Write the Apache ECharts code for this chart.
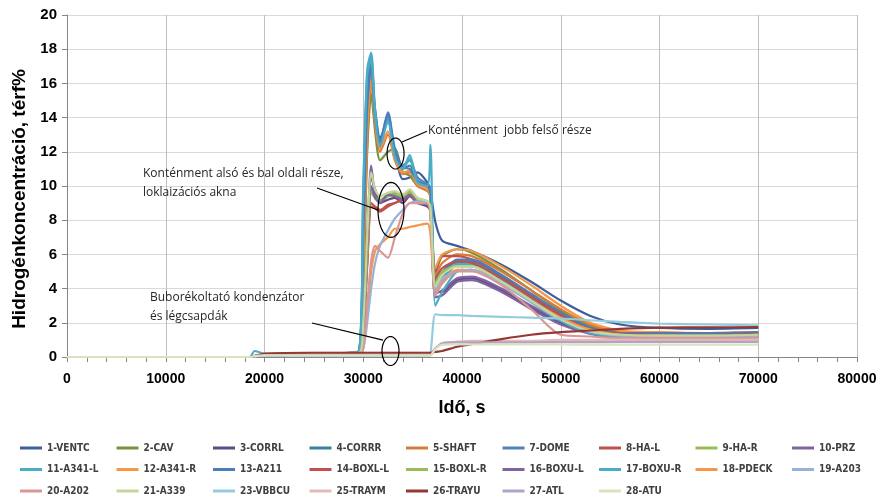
<!DOCTYPE html>
<html>
<head>
<meta charset="utf-8">
<script src="https://cdn.jsdelivr.net/npm/echarts@6/dist/echarts.min.js"></script>
<style>
  html, body { margin: 0; padding: 0; background: #ffffff; }
  #chart { width: 881px; height: 501px; }
</style>
</head>
<body>
<div id="chart"></div>
<script>
// time points (s) shared by every series
var times = [0, 18500, 19000, 20000, 25000, 29500, 30000, 30400, 30800, 31200, 31700, 32500, 33200, 34000, 34700,
             35500, 36500, 36800, 37300, 38000, 39500, 41000, 44000, 47000, 50000, 53000, 56000, 60000, 65000, 70000];

var seriesNames = ['1-VENTC', '2-CAV', '3-CORRL', '4-CORRR', '5-SHAFT', '7-DOME', '8-HA-L', '9-HA-R', '10-PRZ',
                   '11-A341-L', '12-A341-R', '13-A211', '14-BOXL-L', '15-BOXL-R', '16-BOXU-L', '17-BOXU-R', '18-PDECK', '19-A203',
                   '20-A202', '21-A339', '23-VBBCU', '25-TRAYM', '26-TRAYU', '27-ATL', '28-ATU'];

var seriesColors = ['#3d5e9c', '#77933c', '#5f4b7d', '#31859c', '#d97a3c', '#4f81bd', '#c0504d', '#9bbb59', '#8064a2',
                    '#4bacc6', '#f79646', '#4a7ebb', '#c0504d', '#9bbb59', '#8064a2', '#4bacc6', '#f79646', '#95b3d7',
                    '#d99694', '#c3d69b', '#93cddd', '#e6b9b8', '#953735', '#b3a2c7', '#d7e4bd'];

// hydrogen concentration, vol%
var v1  = [0, 0, 0.05, 0.15, 0.2, 0.3, 6, 13, 16.3, 14.5, 12.8, 13.8, 12.0, 10.4, 10.5, 10.8, 10.2, 9.7, 7.9, 6.8, 6.5, 6.2, 5.4, 4.4, 3.3, 2.4, 1.9, 1.7, 1.65, 1.7];
var v2  = [0, 0, 0.05, 0.15, 0.2, 0.3, 4, 12, 15.4, 13.2, 11.5, 12.0, 12.2, 10.8, 10.6, 10.0, 9.8, 9.3, 4.9, 5.9, 6.3, 6.1, 5.1, 3.9, 2.7, 1.8, 1.4, 1.25, 1.25, 1.3];
var v3  = [0, 0, 0.05, 0.1, 0.15, 0.2, 1.5, 6, 10.5, 9.8, 9.0, 9.2, 9.3, 9.0, 9.4, 9.0, 8.8, 8.5, 3.8, 3.8, 4.5, 4.6, 3.9, 2.9, 2.0, 1.4, 1.2, 1.2, 1.2, 1.25];
var v4  = [0, 0, 0.05, 0.15, 0.2, 0.3, 8, 15, 17.2, 14, 12.5, 14.1, 11.8, 11, 11.2, 10.3, 10, 9.8, 4.5, 4.8, 5.6, 5.6, 4.7, 3.6, 2.5, 1.7, 1.35, 1.3, 1.3, 1.35];
var v5  = [0, 0, 0.05, 0.15, 0.2, 0.3, 5, 12.5, 16.2, 13.6, 12.0, 13.0, 11.5, 10.7, 10.8, 10.0, 9.7, 9.4, 4.8, 5.5, 6.0, 5.9, 5.0, 3.9, 2.8, 1.9, 1.5, 1.4, 1.35, 1.4];
var v7  = [0, 0, 0.05, 0.15, 0.2, 0.3, 9, 16, 17.6, 14.2, 12.6, 14.3, 12.2, 11.2, 11.5, 10.5, 10.1, 9.9, 4.3, 4.6, 5.5, 5.5, 4.6, 3.5, 2.4, 1.6, 1.3, 1.35, 1.35, 1.4];
var v8  = [0, 0, 0.05, 0.1, 0.15, 0.2, 1.5, 5.5, 9.0, 8.8, 8.6, 8.9, 9.0, 9.3, 9.5, 9.2, 9.0, 8.7, 5.0, 5.9, 5.9, 5.7, 4.8, 3.6, 2.5, 1.7, 1.4, 1.35, 1.35, 1.4];
var v9  = [0, 0, 0.05, 0.1, 0.15, 0.2, 1.6, 6, 9.8, 9.4, 9.2, 9.5, 9.6, 9.5, 9.7, 9.3, 9.1, 8.8, 4.2, 4.9, 5.4, 5.4, 4.5, 3.4, 2.3, 1.5, 1.3, 1.25, 1.25, 1.3];
var v10 = [0, 0, 0.05, 0.1, 0.15, 0.2, 2, 7, 11.2, 9.5, 9.1, 9.4, 9.5, 9.2, 9.6, 9.1, 9.0, 8.6, 3.5, 3.6, 4.4, 4.5, 3.8, 2.8, 1.9, 1.35, 1.15, 1.15, 1.15, 1.2];
var v11 = [0, 0, 0.05, 0.15, 0.2, 0.3, 10, 16.8, 17.8, 14.4, 12.4, 14.0, 11.8, 11.0, 11.8, 10.2, 9.8, 9.7, 4.0, 4.4, 5.4, 5.4, 4.5, 3.4, 2.3, 1.5, 1.25, 1.3, 1.3, 1.35];
var v12 = [0, 0, 0.05, 0.15, 0.2, 0.3, 6, 13.5, 16.6, 13.8, 12.2, 13.2, 11.6, 10.8, 10.9, 10.1, 9.8, 9.5, 5.2, 6.0, 6.3, 6.2, 5.3, 4.2, 3.0, 2.0, 1.55, 1.45, 1.4, 1.45];
var v13 = [0, 0, 0.05, 0.15, 0.2, 0.3, 7, 14.5, 17.0, 14.0, 12.6, 14.2, 12.0, 11.1, 11.0, 10.3, 10.0, 9.6, 4.6, 5.0, 5.7, 5.7, 4.8, 3.7, 2.6, 1.7, 1.4, 1.4, 1.4, 1.45];
var v14 = [0, 0, 0.05, 0.1, 0.15, 0.2, 1.4, 5.3, 8.8, 8.7, 8.5, 8.8, 9.0, 9.2, 9.4, 9.1, 8.9, 8.6, 4.6, 5.2, 5.6, 5.5, 4.6, 3.5, 2.4, 1.6, 1.35, 1.3, 1.3, 1.35];
var v15 = [0, 0, 0.05, 0.1, 0.15, 0.2, 1.5, 5.8, 9.6, 9.3, 9.1, 9.4, 9.5, 9.4, 9.6, 9.2, 9.0, 8.7, 4.3, 5.0, 5.3, 5.3, 4.4, 3.3, 2.2, 1.5, 1.3, 1.25, 1.25, 1.3];
var v16 = [0, 0, 0.05, 0.1, 0.15, 0.2, 1.8, 6.5, 10.0, 9.3, 9.0, 9.5, 9.4, 9.2, 9.5, 9.0, 8.9, 8.6, 3.7, 3.9, 4.6, 4.7, 4.0, 3.0, 2.1, 1.4, 1.2, 1.2, 1.2, 1.2];
var v17 = [0, 0, 0.35, 0.2, 0.2, 0.3, 9.5, 16.5, 17.4, 14.2, 12.3, 13.8, 11.7, 11.0, 11.6, 10.2, 10.0, 12.4, 3.0, 3.8, 5.0, 5.1, 4.3, 3.2, 2.1, 1.4, 1.2, 1.25, 1.25, 1.3];
var v18 = [0, 0, 0.05, 0.1, 0.15, 0.2, 0.5, 2.5, 5.0, 6.2, 6.6, 7.0, 7.5, 7.5, 7.6, 7.7, 7.8, 7.2, 3.8, 4.5, 5.1, 5.1, 4.4, 3.3, 2.3, 1.6, 1.3, 1.25, 1.2, 1.2];
var v19 = [0, 0, 0.05, 0.1, 0.15, 0.2, 0.5, 2, 4, 5.5, 6.5, 7.4, 8.1, 8.6, 9.0, 9.1, 9.0, 8.6, 3.9, 4.6, 5.0, 5.1, 4.3, 3.2, 2.2, 1.5, 1.25, 1.2, 1.2, 1.25];
var v20 = [0, 0, 0.05, 0.1, 0.15, 0.2, 0.6, 3, 5.6, 6.5, 6.2, 5.8, 7.0, 8.4, 9.0, 9.0, 9.0, 8.3, 3.6, 4.3, 5.0, 5.0, 4.2, 2.8, 1.3, 1.2, 1.1, 1.1, 1.1, 1.1];
var v21 = [0, 0, 0.05, 0.1, 0.15, 0.2, 2, 7, 10.8, 9.8, 9.4, 9.6, 9.7, 9.5, 9.8, 9.3, 9.1, 8.8, 4.1, 4.8, 5.3, 5.3, 4.4, 3.3, 2.2, 1.5, 1.3, 1.25, 1.25, 1.3];
var v23 = [0, 0, 0.05, 0.1, 0.1, 0.1, 0.1, 0.1, 0.1, 0.1, 0.1, 0.1, 0.1, 0.1, 0.1, 0.1, 0.1, 0.2, 2.5, 2.45, 2.45, 2.4, 2.35, 2.3, 2.25, 2.15, 2.05, 1.95, 1.9, 1.85];
var v25 = [0, 0, 0.05, 0.2, 0.25, 0.25, 0.25, 0.25, 0.25, 0.25, 0.25, 0.25, 0.25, 0.25, 0.25, 0.25, 0.25, 0.25, 0.5, 0.8, 0.9, 0.95, 0.95, 0.95, 1.0, 1.0, 1.0, 1.0, 1.0, 1.0];
var v26 = [0, 0, 0.05, 0.2, 0.25, 0.25, 0.25, 0.25, 0.25, 0.25, 0.25, 0.25, 0.25, 0.25, 0.25, 0.25, 0.25, 0.25, 0.3, 0.35, 0.6, 0.75, 1.05, 1.3, 1.45, 1.55, 1.65, 1.72, 1.73, 1.75];
var v27 = [0, 0, 0.05, 0.1, 0.1, 0.1, 0.1, 0.1, 0.1, 0.1, 0.1, 0.1, 0.1, 0.1, 0.1, 0.1, 0.1, 0.1, 0.5, 0.8, 0.85, 0.85, 0.86, 0.86, 0.87, 0.87, 0.88, 0.88, 0.88, 0.88];
var v28 = [0, 0, 0.05, 0.1, 0.1, 0.1, 0.1, 0.1, 0.1, 0.1, 0.1, 0.1, 0.1, 0.1, 0.1, 0.1, 0.1, 0.1, 0.45, 0.72, 0.74, 0.74, 0.74, 0.74, 0.73, 0.72, 0.72, 0.72, 0.72, 0.72];

var seriesValues = [v1, v2, v3, v4, v5, v7, v8, v9, v10, v11, v12, v13, v14, v15, v16, v17, v18, v19,
                    v20, v21, v23, v25, v26, v27, v28];

var xTicks = [0, 80000, 10000];   // min, max, step
var yTicks = [0, 20, 2];

var chart = echarts.init(document.getElementById('chart'));

var series = seriesNames.map(function (name, i) {
    return {
        name: name,
        type: 'line',
        symbol: 'none',
        smooth: 0.25,
        color: seriesColors[i],
        lineStyle: { width: 2.2, color: seriesColors[i] },
        data: times.map(function (t, k) { return [t, seriesValues[i][k]]; })
    };
});

// legend laid out as a 9-column table, one legend per column
var legends = [];
for (var c = 0; c < 9; c++) {
    var names = [];
    for (var r = c; r < seriesNames.length; r += 9) names.push(seriesNames[r]);
    legends.push({
        orient: 'vertical',
        left: 20 + c * 96.5,
        top: 443,
        padding: 0,
        icon: 'rect',
        itemWidth: 22,
        itemHeight: 3,
        itemGap: 11.5,
        textStyle: {
            fontFamily: 'DejaVu Sans Condensed, sans-serif',
            fontWeight: 'bold',
            fontSize: 10,
            color: '#404040'
        },
        data: names
    });
}

chart.setOption({
    animation: false,
    backgroundColor: '#ffffff',
    grid: { left: 67, right: 24, top: 15, bottom: 144, outerBoundsMode: 'none' },
    xAxis: {
        type: 'value',
        min: xTicks[0],
        max: xTicks[1],
        interval: xTicks[2],
        name: 'Idő, s',
        nameLocation: 'middle',
        nameGap: 42,
        nameTextStyle: { fontFamily: 'Liberation Sans', fontWeight: 'bold', fontSize: 18, color: '#000' },
        axisLine: { lineStyle: { color: '#868686', width: 1 } },
        axisTick: { show: true, length: 5, lineStyle: { color: '#868686' } },
        minorTick: { show: true, splitNumber: 5, length: 5, lineStyle: { color: '#868686' } },
        splitLine: { show: true, lineStyle: { color: '#bfbfbf', width: 1 } },
        axisLabel: {
            fontFamily: 'Liberation Sans', fontWeight: 'bold', fontSize: 14, color: '#000', margin: 15,
            formatter: function (v) { return String(v); }
        }
    },
    yAxis: {
        type: 'value',
        min: yTicks[0],
        max: yTicks[1],
        interval: yTicks[2],
        name: 'Hidrogénkoncentráció, térf%',
        nameLocation: 'middle',
        nameGap: 37,
        nameTextStyle: {
            fontFamily: 'Liberation Sans', fontWeight: 'bold', fontSize: 19, color: '#000',
            padding: [0, 26, 0, 0]
        },
        axisLine: { show: true, lineStyle: { color: '#868686', width: 1 } },
        axisTick: { show: true, length: 5, lineStyle: { color: '#868686' } },
        splitLine: { show: true, lineStyle: { color: '#d9d9d9', width: 1 } },
        axisLabel: { fontFamily: 'Liberation Sans', fontWeight: 'bold', fontSize: 15, color: '#000', margin: 10 }
    },
    legend: legends,
    series: series
});

// annotations, anchored in data coordinates
function px(t, v) { return chart.convertToPixel({ gridIndex: 0 }, [t, v]); }

function ellipse(t, v, rx, ry) {
    var c = px(t, v), pts = [];
    for (var k = 0; k < 48; k++) {
        var a = k / 48 * Math.PI * 2;
        pts.push([c[0] + rx * Math.cos(a), c[1] + ry * Math.sin(a)]);
    }
    return { type: 'polygon', shape: { points: pts }, style: { fill: 'none', stroke: '#000', lineWidth: 1.2 }, z: 100 };
}

function leader(t1, v1_, t2, v2_) {
    var a = px(t1, v1_), b = px(t2, v2_);
    return { type: 'line', shape: { x1: a[0], y1: a[1], x2: b[0], y2: b[1] }, style: { stroke: '#000', lineWidth: 1.2 }, z: 100 };
}

function note(t, v, str) {
    var p = px(t, v);
    return {
        type: 'text', x: p[0], y: p[1], z: 100,
        style: { text: str, fill: '#262626', font: '12px "Open Sans", sans-serif', verticalAlign: 'middle', lineHeight: 19 }
    };
}

chart.setOption({
    graphic: [
        ellipse(33270, 11.9, 8.5, 15.5),
        ellipse(32810, 8.6, 13, 27.5),
        ellipse(32760, 0.35, 8.5, 14.5),
        leader(36456, 13.2, 33924, 12.57),
        leader(25316, 9.88, 31494, 8.6),
        leader(24810, 1.99, 32000, 0.99),
        note(36557, 13.27, 'Konténment  jobb felső része'),
        note(7696, 10.2, 'Konténment alsó és bal oldali része,\nloklaizációs akna'),
        note(8405, 2.9, 'Buborékoltató kondenzátor\nés légcsapdák')
    ]
});
</script>
</body>
</html>
